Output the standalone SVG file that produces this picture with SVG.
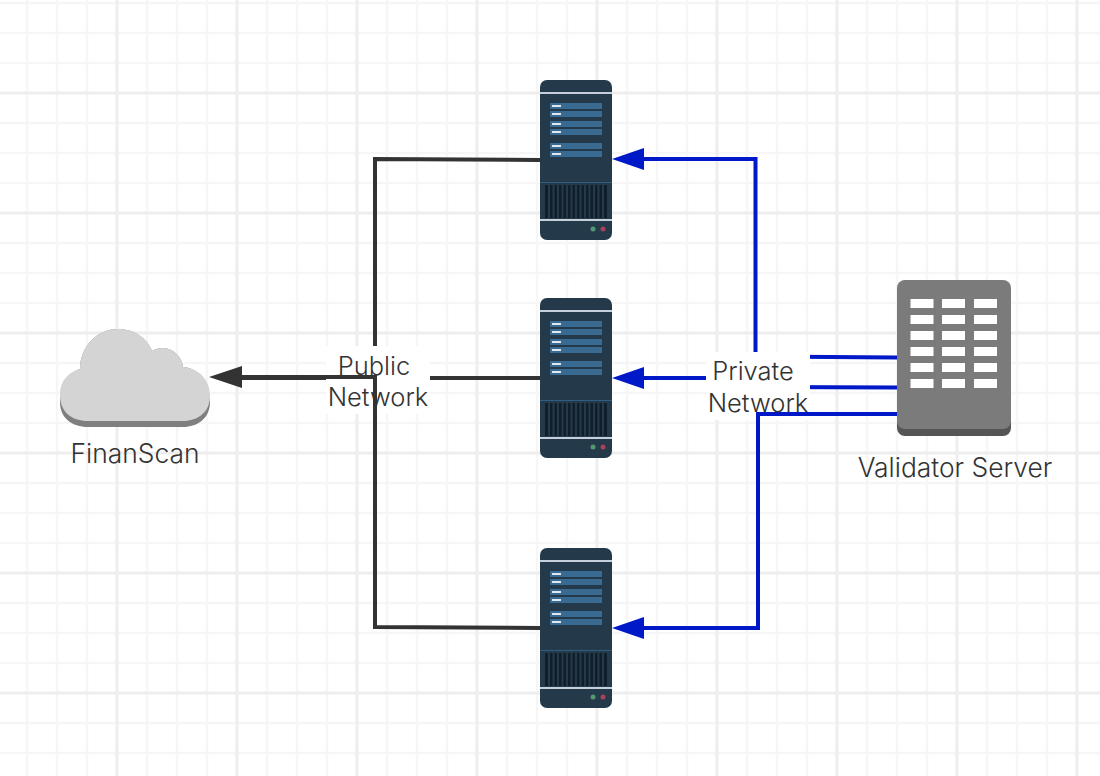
<svg xmlns="http://www.w3.org/2000/svg" width="1100" height="776" viewBox="0 0 1100 776">
<style>
.minor{stroke:#f6f6f6;stroke-width:2.500;fill:none}
.major{stroke:#eeeeee;stroke-width:3;fill:none}
.dark{stroke:#333;stroke-width:4;fill:none}
.blue{stroke:#0019c8;stroke-width:4;fill:none}
.t{font-family:"Inter","Noto Sans","Liberation Sans",sans-serif;font-weight:300;font-size:25.500px;fill:#333;text-anchor:middle}
.b{font-size:26.400px}
</style>
<defs>
<g id="server">
<rect x="0" y="0" width="72" height="160" rx="7" fill="#243a4a"/>
<rect x="0" y="12" width="72" height="2" fill="#c6d0da"/>
<g fill="#386a92">
<rect x="10" y="23" width="52" height="6"/><rect x="10" y="31" width="52" height="6"/>
<rect x="10" y="41" width="52" height="6"/><rect x="10" y="49" width="52" height="6"/>
<rect x="10" y="63" width="52" height="6"/><rect x="10" y="71" width="52" height="6"/>
</g>
<g fill="#dfe8f0">
<rect x="12" y="25" width="9" height="2"/><rect x="12" y="33" width="9" height="2"/>
<rect x="12" y="43" width="9" height="2"/><rect x="12" y="51" width="9" height="2"/>
<rect x="12" y="65" width="9" height="2"/><rect x="12" y="73" width="9" height="2"/>
</g>
<rect x="0" y="102" width="72" height="1" fill="#2f5f80"/>
<rect x="5" y="105" width="62" height="33" fill="#101e2b"/>
<path d="M9 105V138M13.500 105V138M18 105V138M22.500 105V138M27 105V138M31.500 105V138M36 105V138M40.500 105V138M45 105V138M49.500 105V138M54 105V138M58.500 105V138M63 105V138" stroke="#243a4a" stroke-width="2"/>
<rect x="0" y="139" width="72" height="2" fill="#c6d0da"/>
<circle cx="53" cy="149" r="2.500" fill="#4f9a73"/>
<circle cx="63" cy="149" r="2.500" fill="#a8425a"/>
</g>
</defs>
<rect width="1100" height="776" fill="#fff"/>
<g id="grid">
<path class="minor" d="M27 0V776M57 0V776M87 0V776M147 0V776M177 0V776M207 0V776M267 0V776M297 0V776M327 0V776M387 0V776M417 0V776M447 0V776M507 0V776M537 0V776M567 0V776M627 0V776M657 0V776M687 0V776M747 0V776M777 0V776M807 0V776M867 0V776M897 0V776M927 0V776M987 0V776M1017 0V776M1047 0V776"/>
<path class="minor" d="M0 3H1100M0 33H1100M0 63H1100M0 123H1100M0 153H1100M0 183H1100M0 243H1100M0 273H1100M0 303H1100M0 363H1100M0 393H1100M0 423H1100M0 483H1100M0 513H1100M0 543H1100M0 603H1100M0 633H1100M0 663H1100M0 723H1100M0 753H1100"/>
<path class="major" d="M117 0V776M237 0V776M357 0V776M477 0V776M597 0V776M717 0V776M837 0V776M957 0V776M1077 0V776M0 93H1100M0 213H1100M0 333H1100M0 453H1100M0 573H1100M0 693H1100"/>
</g>
<g id="connectors">
<path class="dark" d="M540 160L375 159V377H240"/>
<path class="dark" d="M540 378H240"/>
<path class="blue" d="M897 357.500L755.500 356.500V159H640"/>
<path class="blue" d="M897 387.500L755.500 387V378H640"/>
<rect x="326" y="346" width="104" height="68" fill="#fff"/>
<rect x="706" y="352" width="104" height="68" fill="#fff"/>
<path class="dark" d="M540 628L375 627V377H240"/>
<path class="blue" d="M897 414H758V628H640"/>
<g fill="#333"><path d="M209 377L242 366V388Z"/></g>
<g fill="#0019c8"><path d="M612 159L644 148V170Z"/><path d="M612 378L644 367V389Z"/><path d="M612 628L644 617V639Z"/></g>
</g>
<g id="label-public"><text class="t" x="374" y="375">Public</text><text class="t" x="378" y="406">Network</text></g>
<g id="label-private"><text class="t" x="753" y="380">Private</text><text class="t" x="758" y="412">Network</text></g>
<g id="node-server-1"><use href="#server" x="540" y="80"/></g>
<g id="node-server-2"><use href="#server" x="540" y="298"/></g>
<g id="node-server-3"><use href="#server" x="540" y="548"/></g>
<g id="node-finanscan">
<path d="M60 402C60 383 72 371 80 369C80 347 97 329 118 329C134 329 147 338 152 351C155 349 159 348 163 348C172 348 182 356 183 367C199 368 210 383 210 402C210 418 198 427 183 427H88C72 427 60 418 60 402Z" fill="#7f7f7f"/>
<path d="M60 395C60 378 72 371 80 369C80 347 97 329 118 329C134 329 147 338 152 351C155 349 159 348 163 348C172 348 182 356 183 367C199 368 210 380 210 396C210 412 198 421 183 421H88C72 421 60 412 60 395Z" fill="#d3d4d3"/>
<text class="t b" x="135" y="463">FinanScan</text>
</g>
<g id="node-validator">
<rect x="897" y="290" width="114" height="146" rx="8" fill="#555"/>
<rect x="897" y="280" width="114" height="149" rx="8" fill="#7b7b7b"/>
<g fill="#fff">
<rect x="910.500" y="299" width="23" height="9"/><rect x="942" y="299" width="23" height="9"/><rect x="974" y="299" width="23" height="9"/>
<rect x="910.500" y="315" width="23" height="9"/><rect x="942" y="315" width="23" height="9"/><rect x="974" y="315" width="23" height="9"/>
<rect x="910.500" y="331" width="23" height="9"/><rect x="942" y="331" width="23" height="9"/><rect x="974" y="331" width="23" height="9"/>
<rect x="910.500" y="347" width="23" height="9"/><rect x="942" y="347" width="23" height="9"/><rect x="974" y="347" width="23" height="9"/>
<rect x="910.500" y="363" width="23" height="9"/><rect x="942" y="363" width="23" height="9"/><rect x="974" y="363" width="23" height="9"/>
<rect x="910.500" y="379" width="23" height="9"/><rect x="942" y="379" width="23" height="9"/><rect x="974" y="379" width="23" height="9"/>
</g>
<text class="t b" x="955" y="477">Validator Server</text>
</g>
</svg>
